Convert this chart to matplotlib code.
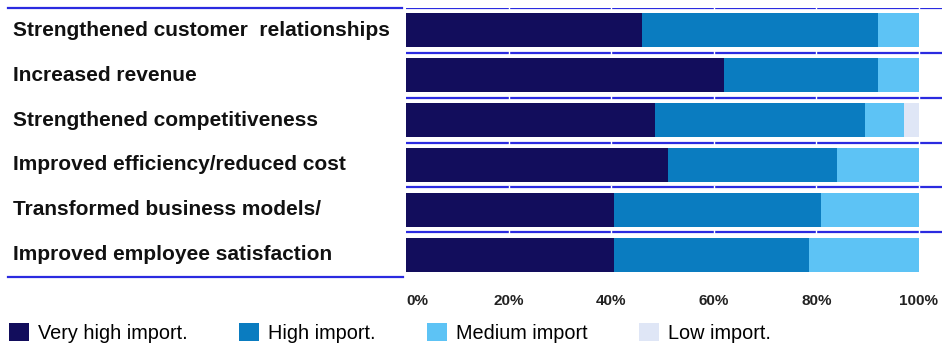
import numpy as np
import matplotlib.pyplot as plt
from matplotlib.lines import Line2D
from matplotlib.transforms import blended_transform_factory

plt.rcParams['font.family'] = ['Liberation Sans', 'DejaVu Sans']

# ── data ────────────────────────────────────────────────────────────────
categories = [
    'Strengthened customer  relationships',
    'Increased revenue',
    'Strengthened competitiveness',
    'Improved efficiency/reduced cost',
    'Transformed business models/',
    'Improved employee satisfaction',
]
series_names = ['Very high import.', 'High import.', 'Medium import', 'Low import.']
very_high = [46, 62, 48.5, 51, 40.5, 40.5]
high = [46, 30, 41, 33, 40.5, 38]
medium = [8, 8, 7.5, 16, 19, 21.5]
low = [0, 0, 3, 0, 0, 0]
tick_values = [0, 20, 40, 60, 80, 100]
tick_labels = ['0%', '20%', '40%', '60%', '80%', '100%']

colors = ['#120d5c', '#0a7cc0', '#5dc3f5', '#dfe6f6']
line_color = '#2b2be0'

W, H = 942, 349
fig = plt.figure(figsize=(W / 100, H / 100), dpi=100)
ax = fig.add_axes([406 / W, 1 - 277 / H, 1 - 406 / W, (277 - 8) / H])

y = np.arange(len(categories))
left = np.zeros(len(categories))
handles = []
for vals, name, c in zip([very_high, high, medium, low], series_names, colors):
    b = ax.barh(y, vals, left=left, height=0.76, color=c, label=name)
    handles.append(b)
    left += np.array(vals)

ax.set_xlim(0, 104.5)
ax.set_ylim(len(categories) - 0.5, -0.5)

# separator lines in the bar area
for s in np.arange(-0.5, len(categories) - 0.5, 1.0):
    ax.axhline(s, color=line_color, lw=1.6, zorder=3)
    for t in tick_values[1:]:
        ax.plot([t, t], [s - 0.04, s + 0.04], color='white', lw=1, zorder=4)

for sp in ax.spines.values():
    sp.set_visible(False)
ax.set_yticks([])
ax.set_xticks(tick_values)
ax.set_xticklabels(tick_labels, fontsize=11, fontweight='bold', color='#222222')
ax.get_xticklabels()[0].set_horizontalalignment('left')
ax.tick_params(axis='x', length=0, pad=12)

# category labels on the left
tr = blended_transform_factory(fig.transFigure, ax.transData)
for i, cat in enumerate(categories):
    ax.text(13 / W, i, cat, transform=tr, ha='left', va='center',
            fontsize=15, fontweight='bold', color='#111111')

# left-side top and bottom rules
fig.add_artist(Line2D([8 / W, 402 / W], [1 - 7.5 / H, 1 - 7.5 / H],
                      color=line_color, lw=1.6))
fig.add_artist(Line2D([8 / W, 403 / W], [1 - 277 / H, 1 - 277 / H],
                      color=line_color, lw=1.6))

fig.legend(handles=handles, labels=series_names, loc='center left',
           bbox_to_anchor=(-7 / W, 1 - 333 / H), ncol=4, frameon=False,
           fontsize=14.3, handlelength=1.0, handleheight=1.0,
           handletextpad=0.45, columnspacing=2.6, borderpad=0.3)

fig.savefig('out.png', dpi=100)
